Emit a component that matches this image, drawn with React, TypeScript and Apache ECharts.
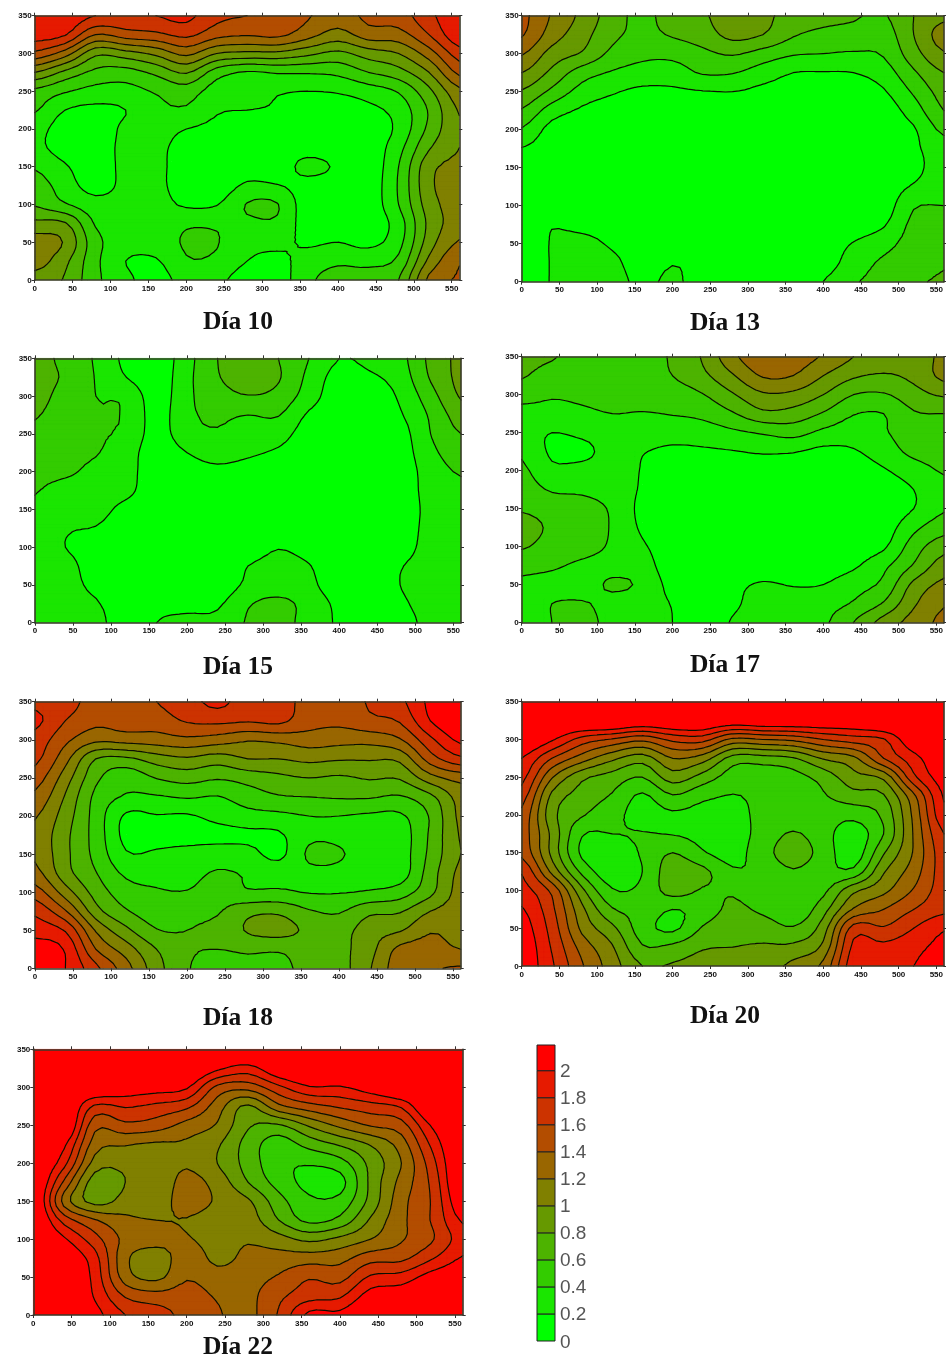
import React, { useEffect, useRef } from "react";
import * as echarts from "echarts";

// Contour levels and legend
const levels = [0.2, 0.4, 0.6, 0.8, 1, 1.2, 1.4, 1.6, 1.8, 2];
const legendTicks = [0, 0.2, 0.4, 0.6, 0.8, 1, 1.2, 1.4, 1.6, 1.8, 2];
const bandColors = ["#00ff00", "#1ae600", "#33cc00", "#4db300", "#669900", "#808000", "#996600", "#b34d00", "#cc3300", "#e61a00", "#ff0000"];
const xTicks = [0, 50, 100, 150, 200, 250, 300, 350, 400, 450, 500, 550];
const yTicks = [0, 50, 100, 150, 200, 250, 300, 350];
// sampling positions of the read grid
const xNodes = [0, 40, 80, 120, 160, 200, 240, 280, 320, 360, 400, 440, 480, 520, 560];
const yNodes = [350, 325, 300, 275, 250, 225, 200, 175, 150, 125, 100, 75, 50, 25, 0];

// Each inner list is one column (x node), read from the top (y = 350) to the bottom (y = 0)
const dia10 = [
  [1.95,1.9,1.55,1.0,.55,.42,.28,.25,.38,.5,.58,.85,1.1,1.1,.9],
  [1.95,1.82,1.3,.75,.42,.2,.1,.12,.22,.3,.42,.82,.98,.85,.78],
  [1.8,1.4,.85,.55,.33,.15,.08,.1,.1,.12,.28,.38,.47,.45,.45],
  [1.75,1.5,.92,.52,.33,.2,.24,.25,.25,.25,.28,.3,.3,.2,.25],
  [1.8,1.55,1.05,.65,.42,.35,.28,.25,.25,.25,.28,.3,.3,.18,.12],
  [1.85,1.65,1.25,.82,.5,.37,.2,.12,.1,.1,.17,.37,.42,.38,.28],
  [1.65,1.47,1.0,.5,.3,.22,.15,.1,.08,.08,.19,.37,.41,.36,.25],
  [1.6,1.42,.95,.38,.28,.2,.12,.1,.12,.23,.41,.36,.27,.2,.1],
  [1.55,1.45,.95,.42,.22,.18,.1,.1,.1,.21,.41,.36,.25,.15,.1],
  [1.42,1.28,.85,.42,.2,.12,.1,.12,.26,.12,.08,.1,.17,.28,.35],
  [1.3,1.12,.75,.45,.22,.1,.1,.1,.17,.1,.08,.08,.2,.36,.5],
  [1.45,1.3,.9,.6,.3,.15,.08,.08,.08,.08,.08,.08,.15,.34,.5],
  [1.5,1.32,1.0,.72,.42,.28,.25,.33,.4,.42,.4,.3,.33,.45,.6],
  [1.75,1.6,1.3,1.0,.75,.62,.65,.78,.93,.95,.9,.85,.9,1.05,1.25],
  [1.95,1.95,1.7,1.45,1.15,1.02,.98,1.0,1.05,1.1,1.1,1.1,1.22,1.38,1.42],
];
const dia13 = [
  [1.45,1.42,1.22,1.0,.78,.58,.38,.19,.12,.1,.1,.1,.1,.1,.1],
  [1.18,1.1,.92,.75,.55,.3,.13,.1,.1,.1,.1,.19,.21,.21,.21],
  [.95,.88,.78,.5,.32,.17,.1,.1,.1,.1,.1,.14,.27,.3,.28],
  [.7,.65,.55,.38,.22,.12,.1,.1,.1,.1,.1,.1,.17,.25,.28],
  [.55,.55,.45,.32,.16,.1,.1,.1,.1,.1,.1,.1,.1,.1,.15],
  [.7,.62,.46,.3,.17,.1,.1,.1,.1,.1,.1,.1,.1,.19,.24],
  [.77,.7,.55,.42,.19,.1,.1,.1,.1,.1,.1,.1,.1,.14,.1],
  [.92,.86,.62,.41,.2,.1,.1,.1,.1,.1,.1,.1,.1,.1,.1],
  [.85,.8,.52,.3,.15,.1,.1,.1,.1,.1,.1,.1,.1,.1,.1],
  [.72,.62,.42,.2,.12,.1,.1,.1,.1,.1,.1,.1,.1,.1,.12],
  [.66,.55,.4,.19,.1,.1,.1,.1,.1,.1,.1,.1,.1,.1,.2],
  [.62,.53,.38,.2,.1,.1,.1,.1,.1,.1,.1,.1,.21,.3,.38],
  [.58,.5,.42,.3,.18,.1,.1,.1,.1,.1,.1,.18,.33,.43,.45],
  [.8,.8,.72,.57,.43,.3,.18,.17,.15,.22,.38,.45,.48,.5,.57],
  [.95,1.1,.98,.8,.68,.6,.45,.3,.3,.32,.4,.45,.5,.58,.62],
];
const dia15 = [
  [.72,.73,.7,.62,.55,.5,.45,.41,.37,.33,.3,.3,.3,.3,.3],
  [.52,.56,.5,.47,.48,.45,.43,.33,.27,.22,.2,.27,.27,.27,.28],
  [.38,.39,.4,.41,.42,.41,.35,.3,.27,.19,.1,.1,.15,.22,.27],
  [.15,.2,.36,.38,.36,.3,.28,.25,.14,.08,.07,.07,.07,.07,.07],
  [.07,.08,.1,.12,.12,.08,.07,.07,.07,.07,.07,.07,.07,.14,.2],
  [.33,.35,.36,.36,.33,.2,.12,.07,.07,.07,.07,.07,.07,.15,.24],
  [.6,.58,.5,.43,.38,.28,.15,.07,.07,.07,.07,.07,.07,.17,.25],
  [.75,.75,.59,.4,.3,.23,.12,.08,.07,.07,.1,.2,.24,.38,.42],
  [.6,.62,.53,.41,.28,.17,.08,.07,.07,.07,.19,.26,.3,.45,.47],
  [.4,.35,.3,.17,.1,.07,.07,.07,.07,.07,.13,.21,.25,.33,.32],
  [.2,.12,.07,.07,.07,.07,.07,.07,.07,.07,.07,.07,.07,.15,.17],
  [.25,.17,.08,.07,.07,.07,.07,.07,.07,.07,.07,.07,.07,.07,.07],
  [.34,.29,.23,.18,.12,.1,.08,.08,.08,.1,.13,.19,.2,.17,.13],
  [.65,.62,.52,.43,.4,.35,.3,.28,.26,.26,.26,.26,.26,.26,.25],
  [.85,.85,.82,.7,.6,.5,.42,.35,.32,.3,.3,.3,.3,.28,.28],
];
const dia17 = [
  [.68,.62,.48,.33,.28,.37,.44,.5,.58,.68,.62,.46,.36,.3,.28],
  [.62,.5,.42,.33,.2,.17,.25,.38,.52,.57,.52,.43,.33,.4,.4],
  [.5,.5,.44,.36,.24,.15,.27,.36,.5,.53,.48,.36,.3,.42,.47],
  [.51,.5,.47,.4,.3,.27,.28,.3,.37,.38,.37,.33,.43,.33,.33],
  [.55,.52,.47,.39,.3,.21,.19,.18,.15,.17,.23,.3,.36,.28,.27],
  [.62,.6,.5,.41,.28,.16,.08,.07,.07,.07,.07,.07,.13,.19,.2],
  [.82,.75,.59,.45,.3,.17,.08,.07,.07,.07,.07,.07,.07,.07,.07],
  [1.15,.98,.78,.58,.36,.19,.1,.07,.07,.07,.07,.08,.15,.16,.22],
  [1.35,1.22,.97,.75,.42,.22,.09,.07,.07,.07,.07,.1,.22,.3,.32],
  [1.3,1.2,.95,.72,.47,.21,.08,.07,.07,.07,.07,.08,.19,.28,.39],
  [1.18,1.0,.8,.58,.35,.15,.07,.07,.07,.07,.07,.1,.2,.32,.37],
  [1.0,.83,.6,.41,.3,.18,.09,.07,.07,.07,.1,.17,.32,.42,.6],
  [.9,.78,.58,.4,.38,.3,.18,.1,.07,.1,.17,.35,.45,.62,.88],
  [.88,.85,.72,.58,.5,.45,.3,.2,.2,.35,.5,.62,.85,.97,1.08],
  [1.05,1.05,.83,.6,.55,.5,.42,.34,.38,.52,.72,.9,1.05,1.18,1.25],
];
const dia18 = [
  [1.75,1.85,1.72,1.65,1.5,1.35,1.22,1.15,1.17,1.27,1.5,1.75,1.92,2.1,2.15],
  [1.7,1.6,1.45,1.27,1.1,.98,.9,.85,.85,.88,1.1,1.42,1.78,1.98,2.0],
  [1.5,1.45,1.25,.8,.65,.55,.52,.52,.54,.61,.72,.88,1.18,1.4,1.65],
  [1.52,1.5,1.28,.76,.47,.38,.17,.14,.22,.36,.49,.62,.85,1.1,1.28],
  [1.6,1.5,1.3,.9,.61,.38,.19,.13,.23,.33,.42,.5,.61,.8,.88],
  [1.72,1.62,1.35,.97,.68,.42,.18,.12,.27,.33,.41,.55,.6,.63,.62],
  [1.85,1.65,1.3,.9,.62,.39,.26,.14,.3,.42,.5,.58,.65,.6,.5],
  [1.7,1.62,1.22,1.0,.68,.5,.33,.16,.27,.38,.42,.74,.82,.63,.55],
  [1.7,1.65,1.25,1.0,.75,.58,.35,.17,.15,.33,.43,.76,.88,.62,.56],
  [1.52,1.48,1.3,1.05,.8,.6,.4,.36,.43,.36,.39,.62,.76,.68,.65],
  [1.5,1.45,1.27,1.02,.77,.62,.4,.36,.42,.36,.39,.58,.72,.74,.72],
  [1.62,1.55,1.27,1.02,.82,.62,.37,.3,.3,.3,.42,.75,.9,.93,.98],
  [1.75,1.62,1.38,1.05,.82,.58,.37,.3,.3,.3,.5,.78,.98,1.25,1.32],
  [2.05,2.0,1.75,1.5,1.12,.75,.62,.63,.65,.7,.75,1.0,1.18,1.28,1.38],
  [2.2,2.2,2.05,1.75,1.28,1.08,1.05,1.02,1.0,1.05,1.08,1.1,1.12,1.2,1.42],
];
const dia20 = [
  [2.3,2.3,2.25,2.0,1.87,1.7,1.55,1.5,1.55,1.78,1.88,2.02,2.1,2.15,2.15],
  [2.3,2.3,2.03,1.6,1.22,.95,.87,.95,.95,1.15,1.55,1.65,1.72,1.78,1.83],
  [2.3,2.3,1.72,1.3,.85,.72,.62,.42,.36,.55,.85,1.05,1.15,1.32,1.42],
  [2.3,2.3,1.58,1.05,.72,.58,.47,.4,.3,.28,.42,.62,.85,1.02,1.1],
  [2.3,2.2,1.45,.9,.6,.37,.32,.41,.42,.4,.45,.53,.5,.62,.8],
  [2.3,2.25,1.65,1.2,.9,.58,.37,.39,.6,.72,.68,.4,.36,.65,.82],
  [2.3,2.25,1.68,1.1,.72,.45,.33,.35,.42,.65,.58,.48,.62,.78,.88],
  [2.3,2.15,1.35,.72,.5,.39,.32,.32,.33,.43,.57,.65,.75,.8,.93],
  [2.3,2.2,1.4,.72,.48,.45,.46,.47,.52,.45,.44,.55,.72,.82,.92],
  [2.3,2.2,1.45,.78,.53,.47,.47,.62,.7,.58,.47,.45,.62,.85,1.05],
  [2.3,2.2,1.6,1.02,.68,.58,.5,.48,.52,.48,.55,.72,.9,1.05,1.25],
  [2.3,2.2,1.7,1.15,.93,.72,.46,.3,.28,.46,.95,1.22,1.68,1.85,1.92],
  [2.3,2.3,1.78,1.6,1.05,.78,.65,.6,.78,.98,1.15,1.4,1.62,1.85,1.9],
  [2.3,2.3,2.18,1.92,1.75,1.35,1.25,1.22,1.22,1.3,1.42,1.6,1.8,1.95,2.0],
  [2.3,2.3,2.25,2.2,2.1,2.02,1.95,1.8,1.72,1.7,1.7,1.75,1.98,2.05,2.05],
];
const dia22 = [
  [2.3,2.3,2.3,2.3,2.3,2.3,2.3,2.3,2.3,2.3,2.3,2.3,2.3,2.3,2.3],
  [2.3,2.3,2.3,2.3,2.3,2.05,1.87,1.57,1.33,1.72,2.03,2.2,2.3,2.3,2.3],
  [2.3,2.3,2.25,1.77,1.47,1.3,1.12,.9,.93,1.42,1.68,1.88,1.93,1.98,2.08],
  [2.3,2.3,2.15,1.82,1.55,1.22,1.05,1.0,1.07,1.25,1.35,1.25,1.3,1.58,1.8],
  [2.3,2.3,2.1,1.75,1.5,1.17,1.08,1.06,1.08,1.2,1.28,1.08,1.15,1.48,1.7],
  [2.3,2.3,2.03,1.65,1.33,1.17,1.18,1.26,1.3,1.19,1.22,1.32,1.38,1.5,1.53],
  [2.3,2.05,1.55,1.3,1.18,1.03,1.0,1.12,1.17,1.1,1.13,1.15,1.28,1.38,1.42],
  [2.3,1.92,1.48,.97,.83,.72,.72,.8,1.03,1.1,1.18,1.25,1.32,1.35,1.35],
  [2.3,2.2,1.75,1.35,.78,.5,.46,.52,.68,.8,1.08,1.28,1.42,1.55,1.62],
  [2.3,2.3,1.98,1.52,1.03,.68,.42,.34,.44,.55,.95,1.3,1.58,1.72,2.05],
  [2.3,2.3,1.98,1.63,1.25,.83,.52,.33,.47,.66,1.05,1.33,1.53,1.77,2.05],
  [2.3,2.3,2.12,1.72,1.42,1.02,.86,.85,.87,1.03,1.2,1.52,1.83,2.1,2.3],
  [2.3,2.3,2.3,1.83,1.52,1.3,1.2,1.27,1.33,1.35,1.38,1.55,1.88,2.15,2.3],
  [2.3,2.3,2.3,2.3,2.03,1.85,1.72,1.65,1.62,1.62,1.58,1.78,2.1,2.3,2.3],
  [2.3,2.3,2.3,2.3,2.3,2.3,2.3,2.3,2.2,2.03,1.9,2.02,2.2,2.3,2.3],
];

const panels = [
  { name: "Día 10", grid: dia10, left: 34.7, right: 459.3, top: 15.7, bottom: 280, capX: 238, capY: 320 },
  { name: "Día 13", grid: dia13, left: 521.7, right: 945.7, top: 15.7, bottom: 281.7, capX: 725, capY: 321 },
  { name: "Día 15", grid: dia15, left: 35, right: 461, top: 358.3, bottom: 622.7, capX: 238, capY: 665 },
  { name: "Día 17", grid: dia17, left: 521.7, right: 949, top: 356.7, bottom: 622.7, capX: 725, capY: 663 },
  { name: "Día 18", grid: dia18, left: 35, right: 460.7, top: 701.7, bottom: 968.3, capX: 238, capY: 1016 },
  { name: "Día 20", grid: dia20, left: 521.7, right: 946, top: 701.7, bottom: 966, capX: 725, capY: 1014 },
  { name: "Día 22", grid: dia22, left: 33.3, right: 462.7, top: 1049.3, bottom: 1315, capX: 238, capY: 1345 },
];

const SUB = 4;

// Catmull-Rom smoothing of the read grid, used only to round the contour outlines
function cr(a: number, b: number, c: number, d: number, t: number) {
  return 0.5 * (2 * b + (c - a) * t + (2 * a - 5 * b + 4 * c - d) * t * t + (3 * b - a - 3 * c + d) * t * t * t);
}
function sample(g: number[][], fi: number, fj: number) {
  const ni = g.length, nj = g[0].length;
  const i = Math.min(Math.floor(fi), ni - 2), j = Math.min(Math.floor(fj), nj - 2);
  const ti = fi - i, tj = fj - j;
  const col = (k: number) => {
    const c = g[Math.max(0, Math.min(ni - 1, k))];
    return cr(c[Math.max(0, j - 1)], c[j], c[j + 1], c[Math.min(nj - 1, j + 2)], tj);
  };
  return Math.max(0, cr(col(i - 1), col(i), col(i + 1), col(i + 2), ti));
}

type P = [number, number, number];
function clipPoly(poly: P[], L: number, above: boolean): P[] {
  const out: P[] = [];
  for (let i = 0; i < poly.length; i++) {
    const a = poly[i], b = poly[(i + 1) % poly.length];
    const ia = above ? a[2] >= L : a[2] < L;
    const ib = above ? b[2] >= L : b[2] < L;
    if (ia) out.push(a);
    if (ia !== ib) {
      const t = (L - a[2]) / (b[2] - a[2]);
      out.push([a[0] + (b[0] - a[0]) * t, a[1] + (b[1] - a[1]) * t, L]);
    }
  }
  return out;
}
const f = (n: number) => n.toFixed(1);
const bandOf = (v: number) => {
  let k = 0;
  while (k < levels.length && v >= levels[k]) k++;
  return k;
};

function buildPaths(g: number[][], api: any) {
  const nx = (xNodes.length - 1) * SUB, ny = (yNodes.length - 1) * SUB;
  const V: number[][] = [], X: number[][] = [], Y: number[][] = [];
  for (let i = 0; i <= nx; i++) {
    V.push([]); X.push([]); Y.push([]);
    for (let j = 0; j <= ny; j++) {
      const fi = i / SUB, fj = j / SUB;
      V[i].push(sample(g, fi, fj) + 1e-5);
      const ii = Math.min(Math.floor(fi), xNodes.length - 2), jj = Math.min(Math.floor(fj), yNodes.length - 2);
      const dx = xNodes[ii] + (xNodes[ii + 1] - xNodes[ii]) * (fi - ii);
      const dy = yNodes[jj] + (yNodes[jj + 1] - yNodes[jj]) * (fj - jj);
      const p = api.coord([dx, dy]);
      X[i].push(p[0]); Y[i].push(p[1]);
    }
  }
  const bands: string[][] = bandColors.map(() => []);
  const lines: string[] = [];
  const tri = (a: P, b: P, c: P) => {
    const lo = Math.min(a[2], b[2], c[2]), hi = Math.max(a[2], b[2], c[2]);
    const k0 = bandOf(lo), k1 = bandOf(hi);
    for (let k = k0; k <= k1; k++) {
      let poly: P[] = [a, b, c];
      if (k > 0) poly = clipPoly(poly, levels[k - 1], true);
      if (k < levels.length && poly.length) poly = clipPoly(poly, levels[k], false);
      if (poly.length > 2) {
        bands[k].push("M" + poly.map((p) => f(p[0]) + " " + f(p[1])).join("L") + "Z");
      }
    }
    for (let k = k0; k < k1; k++) {
      const L = levels[k];
      const pts: number[][] = [];
      const edge = (p: P, q: P) => {
        if ((p[2] >= L) !== (q[2] >= L)) {
          const t = (L - p[2]) / (q[2] - p[2]);
          pts.push([p[0] + (q[0] - p[0]) * t, p[1] + (q[1] - p[1]) * t]);
        }
      };
      edge(a, b); edge(b, c); edge(c, a);
      if (pts.length === 2) lines.push("M" + f(pts[0][0]) + " " + f(pts[0][1]) + "L" + f(pts[1][0]) + " " + f(pts[1][1]));
    }
  };
  for (let j = 0; j < ny; j++) {
    let runStart = -1, runBand = -1;
    const flush = (end: number) => {
      if (runStart >= 0) {
        bands[runBand].push(
          "M" + f(X[runStart][j]) + " " + f(Y[runStart][j]) + "L" + f(X[end][j]) + " " + f(Y[end][j]) +
          "L" + f(X[end][j + 1]) + " " + f(Y[end][j + 1]) + "L" + f(X[runStart][j + 1]) + " " + f(Y[runStart][j + 1]) + "Z"
        );
      }
      runStart = -1;
    };
    for (let i = 0; i < nx; i++) {
      const k = bandOf(V[i][j]);
      const same = k === bandOf(V[i + 1][j]) && k === bandOf(V[i][j + 1]) && k === bandOf(V[i + 1][j + 1]);
      if (same) {
        if (runStart >= 0 && runBand !== k) flush(i);
        if (runStart < 0) { runStart = i; runBand = k; }
      } else {
        flush(i);
        const a: P = [X[i][j], Y[i][j], V[i][j]], b: P = [X[i + 1][j], Y[i + 1][j], V[i + 1][j]];
        const c: P = [X[i + 1][j + 1], Y[i + 1][j + 1], V[i + 1][j + 1]], d: P = [X[i][j + 1], Y[i][j + 1], V[i][j + 1]];
        tri(a, b, c); tri(a, c, d);
      }
    }
    flush(nx);
  }
  return { bands, lines: lines.join("") };
}

function buildOption() {
  const grid: any[] = [], xAxis: any[] = [], yAxis: any[] = [], series: any[] = [], graphic: any[] = [];
  const lineStyle = { color: "#3a3a2a", width: 1.6 };
  panels.forEach((p, idx) => {
    grid.push({ left: p.left, top: p.top, width: p.right - p.left, height: p.bottom - p.top, containLabel: false });
    const xBase = { type: "value", gridIndex: idx, min: 0, max: 560, interval: 50, z: 10, splitLine: { show: false }, axisLine: { show: true, onZero: false, lineStyle } };
    const yBase = { type: "value", gridIndex: idx, min: 0, max: 350, interval: 50, z: 10, splitLine: { show: false }, axisLine: { show: true, onZero: false, lineStyle } };
    const tick = (vals: number[]) => ({ show: true, length: 3, customValues: vals, lineStyle: { color: "#333", width: 1 } });
    const label = { color: "#111", fontSize: 8, fontFamily: "Liberation Sans", fontWeight: "bold" };
    xAxis.push({ ...xBase, position: "bottom", axisTick: tick(xTicks), axisLabel: { ...label, margin: 4, customValues: xTicks } });
    xAxis.push({ ...xBase, position: "top", axisTick: tick(xTicks), axisLabel: { show: false } });
    yAxis.push({ ...yBase, position: "left", axisTick: tick(yTicks), axisLabel: { ...label, margin: 3 } });
    yAxis.push({ ...yBase, position: "right", axisTick: tick(yTicks), axisLabel: { show: false } });
    const data: number[][] = [];
    p.grid.forEach((col, i) => col.forEach((v, j) => data.push([xNodes[i], yNodes[j], v])));
    series.push({
      type: "custom",
      name: p.name,
      coordinateSystem: "cartesian2d",
      xAxisIndex: idx * 2,
      yAxisIndex: idx * 2,
      data,
      encode: { x: 0, y: 1 },
      silent: true,
      clip: false,
      renderItem: (params: any, api: any) => {
        if (params.dataIndex !== 0) return null;
        const { bands, lines } = buildPaths(p.grid, api);
        const children: any[] = [];
        bands.forEach((b, k) => {
          if (b.length) children.push({ type: "path", shape: { pathData: b.join("") }, style: { fill: bandColors[k], stroke: bandColors[k], lineWidth: 0.3 } });
        });
        children.push({ type: "path", shape: { pathData: lines }, style: { fill: "none", stroke: "#0a0f00", lineWidth: 1.2, lineCap: "round" } });
        return { type: "group", children };
      },
    });
    graphic.push({
      type: "text", x: p.capX, y: p.capY, z: 20,
      style: { text: p.name, fill: "#111", font: "bold 25.5px 'Liberation Serif'", textAlign: "center", textVerticalAlign: "middle" },
    });
  });
  // legend colour bar
  const li = panels.length;
  grid.push({ left: 537, top: 1045, width: 18, height: 296 });
  xAxis.push({ type: "value", gridIndex: li, min: 0, max: 1, show: false });
  yAxis.push({
    type: "value", gridIndex: li, min: 0, max: 2.19, position: "right",
    splitLine: { show: false }, axisLine: { show: false }, axisTick: { show: false },
    axisLabel: { customValues: legendTicks, margin: 5, fontSize: 19, color: "#555", fontFamily: "Liberation Sans" },
  });
  const edges = [...legendTicks, 2.19];
  series.push({
    type: "custom",
    coordinateSystem: "cartesian2d",
    xAxisIndex: xAxis.length - 1,
    yAxisIndex: yAxis.length - 1,
    silent: true,
    data: bandColors.map((c, k) => [edges[k], edges[k + 1]]),
    encode: { y: [0, 1] },
    renderItem: (params: any, api: any) => {
      const a = api.coord([0, api.value(0)]);
      const b = api.coord([1, api.value(1)]);
      return {
        type: "rect",
        shape: { x: a[0], y: b[1], width: b[0] - a[0], height: a[1] - b[1] },
        style: { fill: bandColors[params.dataIndex], stroke: "#222", lineWidth: 1 },
      };
    },
  });
  return { animation: false, backgroundColor: "#ffffff", grid, xAxis, yAxis, series, graphic };
}

export default function App() {
  const ref = useRef<HTMLDivElement>(null);
  useEffect(() => {
    const chart = echarts.init(ref.current!, undefined, { renderer: "svg" });
    chart.setOption(buildOption());
    return () => chart.dispose();
  }, []);
  return (
    <div
      ref={ref}
      style={{ position: "absolute", left: 0, top: 0, width: 946, height: 1358, overflow: "hidden", filter: "blur(0.6px)" }}
    />
  );
}
